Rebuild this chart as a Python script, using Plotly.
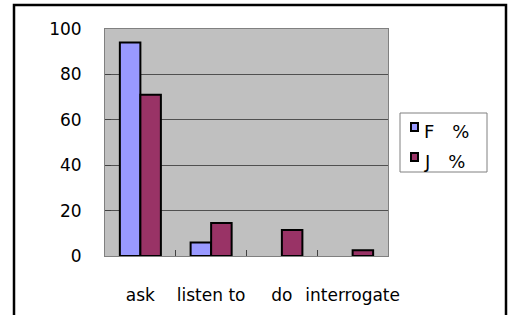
import plotly.graph_objects as go

categories = ["ask", "listen to", "do", "interrogate"]
f_values = [94, 6, 0, 0]
j_values = [71, 14.5, 11.5, 2.5]
series_names = ["F　%", "J　%"]
series_colors = ["#9999FF", "#993366"]
y_ticks = [0, 20, 40, 60, 80, 100]

FONT = "DejaVu Sans, sans-serif"

fig = go.Figure()
for name, vals, col in zip(series_names, [f_values, j_values], series_colors):
    fig.add_trace(go.Bar(x=categories, y=vals, name=name, showlegend=False,
                         marker=dict(color=col,
                                     line=dict(color="black",
                                               width=[2 if v > 0 else 0 for v in vals]))))

L, R, T, B = 105, 388, 29, 256
W, H = 512, 315
pw, ph = R - L, B - T

def px(x):
    return (x - L) / pw

def py(y):
    return 1 - (y - T) / ph

shapes = [
    # outer chart border
    dict(type="rect", xref="paper", yref="paper",
         x0=px(14), x1=px(506), y0=py(330), y1=py(5),
         line=dict(color="black", width=2.5), fillcolor="rgba(0,0,0,0)", layer="above"),
    # legend box
    dict(type="rect", xref="paper", yref="paper",
         x0=px(400), x1=px(487), y0=py(172), y1=py(113),
         line=dict(color="#808080", width=1), fillcolor="white", layer="above"),
]
annotations = []
legend_rows = [127, 157]
for name, col, yc in zip(series_names, series_colors, legend_rows):
    shapes.append(dict(type="rect", xref="paper", yref="paper",
                       x0=px(411), x1=px(418), y0=py(yc + 4), y1=py(yc - 4),
                       line=dict(color="black", width=2), fillcolor=col, layer="above"))
    annotations.append(dict(xref="paper", yref="paper", x=px(422), y=py(yc + 4),
                            xanchor="left", yanchor="middle", showarrow=False,
                            text=name, font=dict(family=FONT, size=18, color="black")))

fig.update_layout(
    width=W, height=H,
    margin=dict(l=L, r=W - R, t=T, b=H - B, pad=0, autoexpand=False),
    paper_bgcolor="white",
    plot_bgcolor="#C0C0C0",
    barmode="group",
    bargap=0.42,
    bargroupgap=0,
    font=dict(family=FONT, size=17, color="black"),
    showlegend=False,
    xaxis=dict(showline=True, linecolor="#808080", linewidth=1, mirror=True,
               ticks="inside", tickson="boundaries", ticklen=6, tickcolor="#404040",
               tickangle=0, automargin=False,
               ticklabelstandoff=24, tickfont=dict(size=17), fixedrange=True),
    yaxis=dict(range=[0, 100], tickvals=y_ticks, showline=True, linecolor="#808080",
               linewidth=1, mirror=True, showgrid=True, gridcolor="#505050", gridwidth=1,
               ticks="inside", ticklen=6, tickcolor="#404040", automargin=False,
               ticklabelstandoff=19, tickfont=dict(size=17), zeroline=False, fixedrange=True),
    shapes=shapes,
    annotations=annotations,
)

fig.write_html("out.html", config={"displayModeBar": False, "staticPlot": True},
               post_script="document.body.style.margin='0';")
